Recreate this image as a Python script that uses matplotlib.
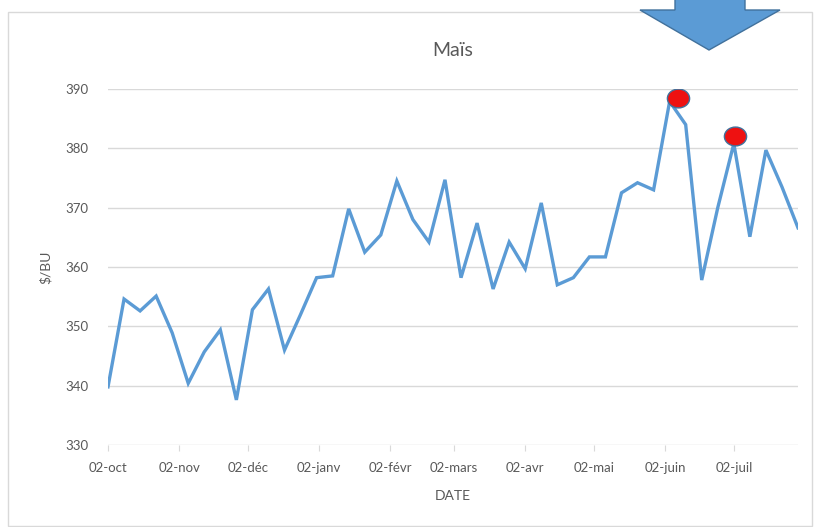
import matplotlib
matplotlib.use("Agg")
import matplotlib.pyplot as plt
from matplotlib.patches import Polygon, Rectangle
from matplotlib.path import Path
from matplotlib.transforms import Affine2D
import pandas as pd

# ---- data ----
start_date = "2017-10-02"
n_weeks = 44
prices = [339.8, 354.6, 352.6, 355.1, 348.9, 340.4, 345.7, 349.4, 337.6, 352.8,
          356.3, 346.0, 352.0, 358.2, 358.5, 369.8, 362.5, 365.4, 374.5, 368.0,
          364.2, 374.7, 358.2, 367.4, 356.3, 364.2, 359.7, 370.8, 357.0, 358.2,
          361.7, 361.7, 372.5, 374.2, 373.0, 387.9, 384.0, 357.8, 370.0, 380.8,
          365.1, 379.7, 373.5, 366.6]
tick_dates = ["2017-10-02", "2017-11-02", "2017-12-02", "2018-01-02", "2018-02-02",
              "2018-03-02", "2018-04-02", "2018-05-02", "2018-06-02", "2018-07-02"]
tick_labels = ["02-oct", "02-nov", "02-déc", "02-janv", "02-févr",
               "02-mars", "02-avr", "02-mai", "02-juin", "02-juil"]
highlight_idx = [35, 39]
highlight_day_shift = [3.5, 0.5]
highlight_offset = [0.6, 1.3]
y_ticks = [330, 340, 350, 360, 370, 380, 390]

dates = pd.date_range(start_date, periods=n_weeks, freq="7D")

plt.rcParams['font.family'] = ['Lato', 'DejaVu Sans']
grey = "#595959"

fig = plt.figure(figsize=(8.23, 5.27), dpi=100)
fig.patch.set_facecolor("white")

# chart frame
fig.patches.append(Rectangle((8/823, 1-526/527), (812-8)/823, (526-12)/527,
                             transform=fig.transFigure, fill=False,
                             edgecolor="#d9d9d9", linewidth=1))

ax = fig.add_axes([108/823, 1-445/527, (798-108)/823, (445-89)/527])
ax.plot(dates, prices, color="#5B9BD5", linewidth=2.4, solid_joinstyle="miter", zorder=3)

ellipse_marker = Path.unit_circle().transformed(Affine2D().scale(1.18, 1.0))
hx = [dates[i] + pd.Timedelta(days=d) for i, d in zip(highlight_idx, highlight_day_shift)]
hy = [prices[i] + o for i, o in zip(highlight_idx, highlight_offset)]
ax.plot(hx, hy, linestyle="none", marker=ellipse_marker, markersize=16,
        markerfacecolor="#EE1111", markeredgecolor="#41719C", markeredgewidth=1.0, zorder=4)

ax.set_ylim(330, 390)
ax.set_yticks(y_ticks)
ax.set_xlim(dates[0], dates[-1])
ax.set_xticks(pd.to_datetime(tick_dates))
ax.set_xticklabels(tick_labels)

for s in ax.spines.values():
    s.set_visible(False)
ax.grid(axis="y", color="#d9d9d9", linewidth=1)
ax.set_axisbelow(True)
ax.tick_params(axis="y", length=0, pad=14, labelsize=9.5, labelcolor=grey)
ax.tick_params(axis="x", length=4, color="#d9d9d9", pad=8, labelsize=9.5, labelcolor=grey)

ax.set_title("Maïs", fontsize=14, color=grey, pad=24)
ax.set_ylabel("$/BU", fontsize=10, color=grey, labelpad=10)
ax.set_xlabel("DATE", fontsize=10, color=grey, labelpad=12)

# blue arrow decoration
arrow_px = [(675, -5), (745, -5), (745, 10), (780, 10), (709, 50), (640, 10), (675, 10)]
arrow_fig = [(x/823, 1 - y/527) for x, y in arrow_px]
fig.patches.append(Polygon(arrow_fig, closed=True, transform=fig.transFigure,
                           facecolor="#5B9BD5", edgecolor="#41719C", linewidth=1))

fig.savefig("out.png", dpi=100)
